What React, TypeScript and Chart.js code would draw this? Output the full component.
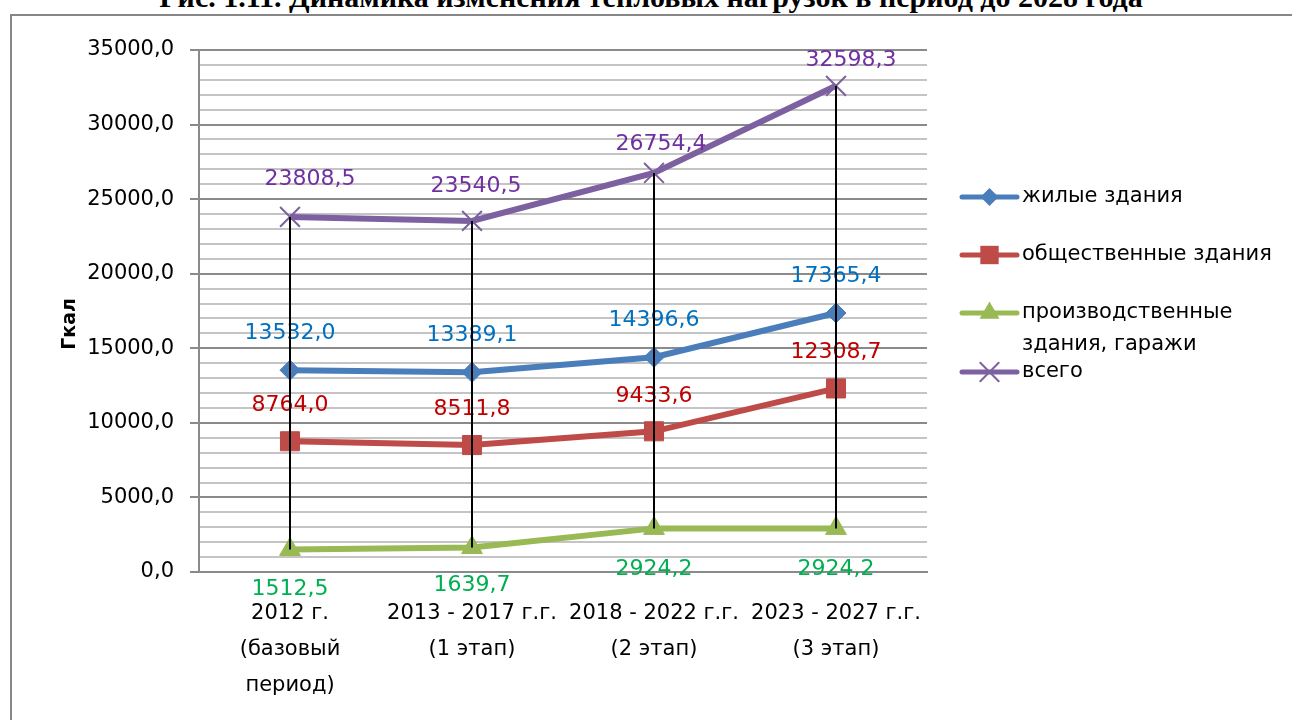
import React, { useEffect, useRef } from 'react';
import { Chart, registerables } from 'chart.js';

Chart.register(...registerables);

// ---- data ----
const categories: string[][] = [
  ['2012 г.', '(базовый', 'период)'],
  ['2013 - 2017 г.г.', '(1 этап)'],
  ['2018 - 2022 г.г.', '(2 этап)'],
  ['2023 - 2027 г.г.', '(3 этап)'],
];
const seriesNames = ['жилые здания', 'общественные здания', 'производственные здания, гаражи', 'всего'];
const residential = [13532.0, 13389.1, 14396.6, 17365.4];
const publicBuildings = [8764.0, 8511.8, 9433.6, 12308.7];
const industrial = [1512.5, 1639.7, 2924.2, 2924.2];
const total = [23808.5, 23540.5, 26754.4, 32598.3];
const yMin = 0;
const yMax = 35000;
const yMajorStep = 5000;
const yMinorStep = 1000;
const yAxisTitle = 'Гкал';
const chartTitle = 'Рис. 1.11. Динамика изменения тепловых нагрузок в период до 2028 года';

// ---- styles ----
const FONT = '"DejaVu Sans", sans-serif';
const lineColors = ['#4A7EBB', '#BE4B48', '#98B954', '#7D60A0'];
const labelColors = ['#0070C0', '#C00000', '#00B050', '#7030A0'];
const pointStyles = ['rectRot', 'rect', 'triangle', 'crossRot'];
const pointRadii = [10, 13.5, 12, 14];
const labelDx = [[0, 0, 0, 0], [0, 0, 0, 0], [0, 0, 0, 0], [20, 4, 7, 15]];
const labelDy = [[-37, -37, -37, -37], [-36, -36, -35, -36], [40, 38, 41, 41], [-38, -35, -29, -26]];

const fmt = (v: number) => v.toFixed(1).replace('.', ',');

function drawMarker(ctx: CanvasRenderingContext2D, style: string, x: number, y: number, r: number, color: string) {
  ctx.save();
  ctx.fillStyle = color;
  ctx.strokeStyle = color;
  ctx.beginPath();
  if (style === 'rectRot') {
    ctx.moveTo(x - r, y);
    ctx.lineTo(x, y - r);
    ctx.lineTo(x + r, y);
    ctx.lineTo(x, y + r);
    ctx.closePath();
    ctx.fill();
  } else if (style === 'rect') {
    const s = r * Math.SQRT1_2;
    ctx.rect(x - s, y - s, 2 * s, 2 * s);
    ctx.fill();
  } else if (style === 'triangle') {
    ctx.moveTo(x, y - r);
    ctx.lineTo(x + r * Math.cos(Math.PI / 6), y + r * 0.5);
    ctx.lineTo(x - r * Math.cos(Math.PI / 6), y + r * 0.5);
    ctx.closePath();
    ctx.fill();
  } else {
    const s = r * Math.SQRT1_2;
    ctx.lineWidth = 2;
    ctx.moveTo(x - s, y - s);
    ctx.lineTo(x + s, y + s);
    ctx.moveTo(x - s, y + s);
    ctx.lineTo(x + s, y - s);
    ctx.stroke();
  }
  ctx.restore();
}

const overlayPlugin = {
  id: 'overlay',
  afterDatasetsDraw(chart: any) {
    const ctx: CanvasRenderingContext2D = chart.ctx;
    ctx.save();
    // data labels
    ctx.font = `22px ${FONT}`;
    ctx.textAlign = 'center';
    ctx.textBaseline = 'middle';
    chart.data.datasets.forEach((ds: any, di: number) => {
      const meta = chart.getDatasetMeta(di);
      meta.data.forEach((pt: any, i: number) => {
        ctx.fillStyle = labelColors[di];
        ctx.fillText(fmt(ds.data[i]), pt.x + labelDx[di][i], pt.y + labelDy[di][i]);
      });
    });
    // high-low lines
    ctx.strokeStyle = '#000000';
    ctx.lineWidth = 2;
    const n = chart.data.labels.length;
    for (let i = 0; i < n; i++) {
      let top = Infinity;
      let bottom = -Infinity;
      let x = 0;
      chart.data.datasets.forEach((_: any, di: number) => {
        const pt = chart.getDatasetMeta(di).data[i];
        x = pt.x;
        top = Math.min(top, pt.y);
        bottom = Math.max(bottom, pt.y);
      });
      ctx.beginPath();
      ctx.moveTo(Math.round(x), top);
      ctx.lineTo(Math.round(x), bottom);
      ctx.stroke();
    }
    ctx.restore();
  },
  afterDraw(chart: any) {
    const ctx: CanvasRenderingContext2D = chart.ctx;
    ctx.save();
    // y axis title
    ctx.font = `bold 19px ${FONT}`;
    ctx.fillStyle = '#000';
    ctx.textAlign = 'center';
    ctx.textBaseline = 'middle';
    ctx.translate(58, 308);
    ctx.rotate(-Math.PI / 2);
    ctx.fillText(yAxisTitle, 0, 0);
    ctx.restore();

    // legend
    ctx.save();
    const ys = [181, 239, 297, 356];
    const x0 = 950;
    const x1 = 1005;
    const mx = 977.5;
    const legendR = [9, 13, 11.5, 13];
    ctx.font = `21px ${FONT}`;
    ctx.textAlign = 'left';
    ctx.textBaseline = 'middle';
    seriesNames.forEach((name, i) => {
      const y = ys[i];
      ctx.strokeStyle = lineColors[i];
      ctx.lineWidth = 5;
      ctx.lineCap = 'round';
      ctx.beginPath();
      ctx.moveTo(x0, y);
      ctx.lineTo(x1, y);
      ctx.stroke();
      drawMarker(ctx, pointStyles[i], mx, y, legendR[i], lineColors[i]);
      ctx.fillStyle = '#000';
      if (i === 2) {
        ctx.fillText('производственные', 1010, y);
        ctx.fillText('здания, гаражи', 1010, y + 32);
      } else {
        ctx.fillText(name, 1010, y);
      }
    });
    ctx.restore();
  },
};

export default function App() {
  const ref = useRef<HTMLCanvasElement>(null);

  useEffect(() => {
    if (!ref.current) return;
    const series = [residential, publicBuildings, industrial, total];
    const chart = new Chart(ref.current, {
      type: 'line',
      data: {
        labels: categories as any,
        datasets: series.map((d, i) => ({
          label: seriesNames[i],
          data: d,
          borderColor: lineColors[i],
          backgroundColor: lineColors[i],
          borderWidth: 6,
          tension: 0,
          pointStyle: pointStyles[i] as any,
          pointRadius: pointRadii[i],
          pointHoverRadius: pointRadii[i],
          pointBackgroundColor: lineColors[i],
          pointBorderColor: lineColors[i],
          pointBorderWidth: i === 3 ? 2 : 1,
          fill: false,
        })),
      },
      options: {
        responsive: false,
        maintainAspectRatio: false,
        animation: false,
        layout: { padding: { top: 34, right: 365, left: 0, bottom: 0 } },
        plugins: {
          legend: { display: false },
          title: { display: false },
          tooltip: { enabled: false },
        },
        scales: {
          x: {
            offset: true,
            grid: { display: false, drawTicks: false },
            border: { display: true, color: '#8a8a8a', width: 2 },
            ticks: {
              color: '#000',
              font: { family: FONT, size: 21, lineHeight: 1.7 },
              padding: 24,
              maxRotation: 0,
              autoSkip: false,
            },
            afterFit: (scale: any) => {
              scale.height = 148;
            },
          },
          y: {
            min: yMin,
            max: yMax,
            grid: {
              color: (c: any) => (c.tick && c.tick.value % yMajorStep === 0 ? '#8a8a8a' : '#c4c4c4'),
              tickColor: (c: any) => (c.tick && c.tick.value % yMajorStep === 0 ? '#8a8a8a' : 'rgba(0,0,0,0)'),
              lineWidth: 2,
              tickLength: 9,
              drawTicks: true,
            },
            border: { display: true, color: '#8a8a8a', width: 2 },
            ticks: {
              stepSize: yMinorStep,
              autoSkip: false,
              color: '#000',
              font: { family: FONT, size: 21 },
              padding: 16,
              callback: (v: any) => (Number(v) % yMajorStep === 0 ? fmt(Number(v)) : ''),
            },
            afterFit: (scale: any) => {
              scale.width = 187;
            },
          },
        },
      },
      plugins: [overlayPlugin],
    });
    return () => chart.destroy();
  }, []);

  return (
    <div style={{ position: 'fixed', inset: 0, overflow: 'hidden', background: '#fff' }}>
      <div
        style={{
          position: 'absolute',
          left: 5,
          width: 1292,
          top: -18,
          textAlign: 'center',
          fontFamily: '"Liberation Serif", serif',
          fontWeight: 'bold',
          fontSize: 30,
          lineHeight: '30px',
          whiteSpace: 'nowrap',
          color: '#000',
        }}
      >
        {chartTitle}
      </div>
      <div
        style={{
          position: 'absolute',
          left: 10,
          top: 14,
          width: 1300,
          height: 800,
          border: '2px solid #878787',
          boxSizing: 'border-box',
        }}
      />
      <canvas
        ref={ref}
        width={1280}
        height={704}
        style={{ position: 'absolute', left: 12, top: 16, width: 1280, height: 704 }}
      />
    </div>
  );
}
